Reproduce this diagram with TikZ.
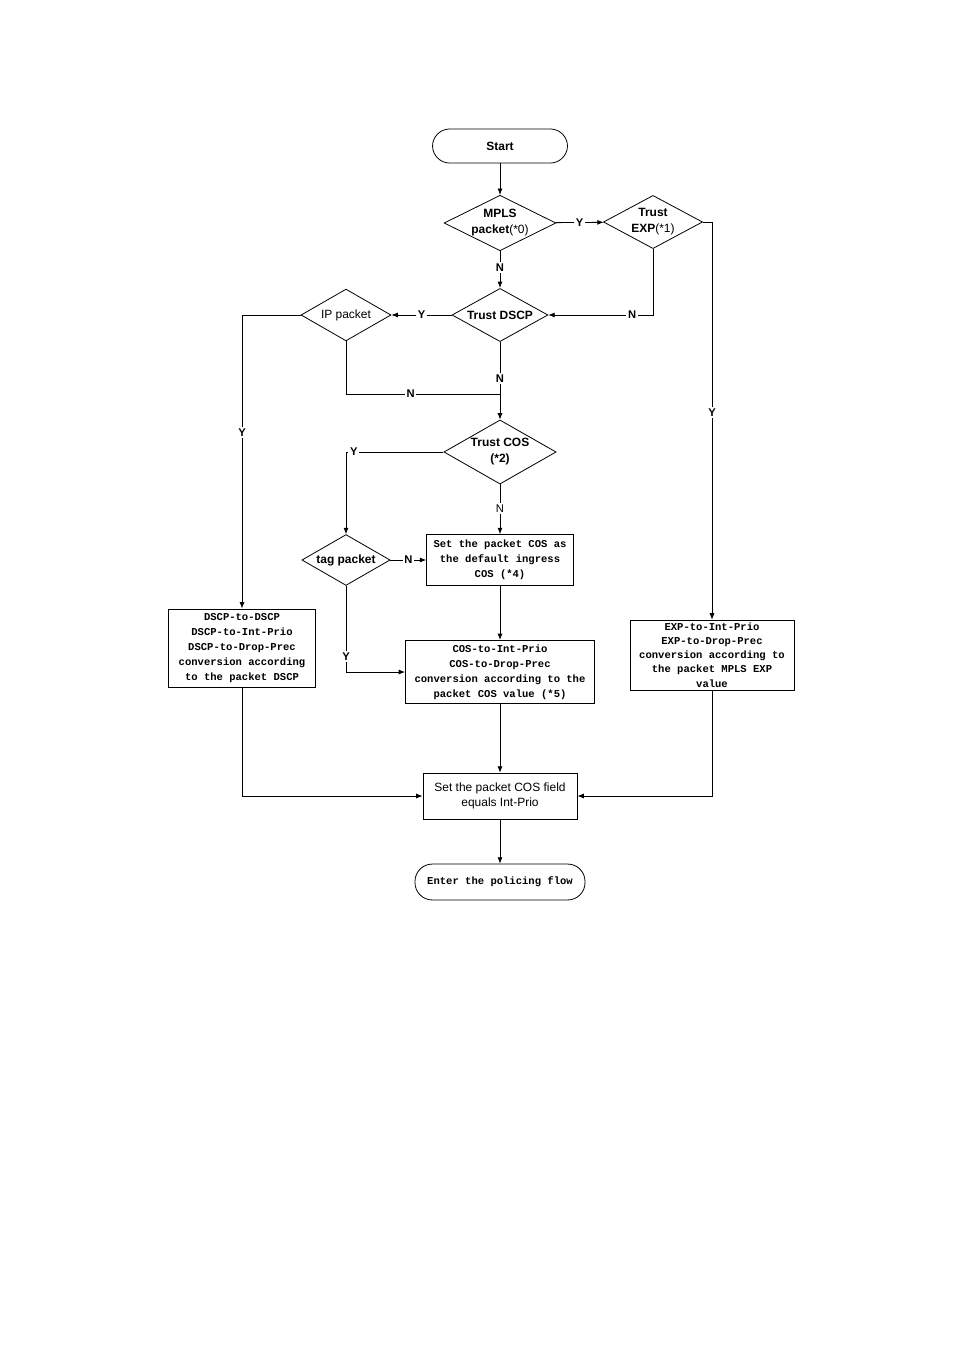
\documentclass[tikz,border=0pt]{standalone}
\usepackage{fontspec}
\setmainfont{Liberation Sans}
\newfontfamily\boxfont{Liberation Mono}
\usetikzlibrary{shapes.geometric,arrows.meta}

\begin{document}
\begin{tikzpicture}[x=0.22mm, y=-0.22mm, >={Latex[length=1.4mm,width=1.1mm]}, line width=0.5pt,
    decide/.style={draw, diamond, aspect=2, inner sep=0pt, align=center, font=\fontsize{7.5}{10}\selectfont\bfseries},
    stepbox/.style={draw, rectangle, inner sep=1pt, align=center, font=\boxfont\fontsize{6.6}{9.4}\selectfont\bfseries},
    plainbox/.style={draw, rectangle, align=center, font=\fontsize{7.5}{9.4}\selectfont},
    term/.style={draw, rectangle, rounded corners=3.8mm, align=center},
    yn/.style={fill=white, inner sep=1pt, font=\fontsize{7}{8}\selectfont\bfseries}]
    \useasboundingbox (0,0) rectangle (954,1350);
    % decisions
    \node[term, minimum width=29.7mm, minimum height=7.5mm, font=\fontsize{7.5}{9}\selectfont\bfseries] (start) at (500,146) {Start};
    \node[decide, minimum width=24.6mm, minimum height=11.9mm] (mpls) at (500,223) {MPLS\\packet{\mdseries(*0)}};
    \node[decide, minimum width=21.8mm, minimum height=11.7mm] (texp) at (653,222) {Trust\\EXP{\mdseries(*1)}};
    \node[decide, minimum width=21.1mm, minimum height=11.7mm] (tdscp) at (500,315) {Trust DSCP};
    \node[decide, minimum width=19.8mm, minimum height=11.4mm, font=\fontsize{7.5}{10}\selectfont] (ippkt) at (346,315) {IP packet};
    \node[decide, minimum width=24.2mm, minimum height=14.1mm] (tcos) at (500,452) {Trust COS\\(*2)};
    \node[decide, minimum width=19.4mm, minimum height=11.2mm] (tagpkt) at (346,560) {tag packet};
    % actions
    \node[stepbox, minimum width=32.3mm, minimum height=11.2mm] (defcos) at (500,560) {Set the packet COS as\\the default ingress\\COS (*4)};
    \node[stepbox, minimum width=32.3mm, minimum height=17.2mm] (dscpmap) at (242,648) {DSCP-to-DSCP\\DSCP-to-Int-Prio\\DSCP-to-Drop-Prec\\conversion according\\to the packet DSCP};
    \node[stepbox, minimum width=41.6mm, minimum height=13.9mm] (cosmap) at (500,672) {COS-to-Int-Prio\\COS-to-Drop-Prec\\conversion according to the\\packet COS value (*5)};
    \node[stepbox, inner sep=0pt, minimum width=36.1mm, minimum height=15.4mm, font=\boxfont\fontsize{6.6}{8.9}\selectfont\bfseries] (expmap) at (712,655) {EXP-to-Int-Prio\\EXP-to-Drop-Prec\\conversion according to\\the packet MPLS EXP\\value};
    \node[plainbox, minimum width=33.9mm, minimum height=10.1mm] (setcos) at (500,796) {Set the packet COS field\\equals Int-Prio};
    \node[term, minimum width=37.4mm, minimum height=7.9mm, font=\boxfont\fontsize{6.6}{8}\selectfont\bfseries] (enter) at (500,882) {Enter the policing flow};
    \coordinate (join) at (500,394);
    % flow
    \draw[->] (start) -- (mpls);
    \draw[->] (mpls) -- node[yn]{Y} (texp);
    \draw[->] (mpls) -- node[yn, pos=0.44]{N} (tdscp);
    \draw[->] (texp.south) |- node[yn, pos=0.6]{N} (tdscp.east);
    \draw[->] (texp.east) -| node[yn, pos=0.74]{Y} (expmap.north);
    \draw[->] (tdscp) -- node[yn]{Y} (ippkt);
    \draw[->] (ippkt.west) -| node[yn, pos=0.7]{Y} (dscpmap.north);
    \draw (ippkt.south) |- node[yn, pos=0.71]{N} (join);
    \draw[->] (tdscp) -- node[yn, pos=0.47]{N} (tcos);
    \draw[->] (tcos.west) -| node[yn, pos=0.46]{Y} (tagpkt.north);
    \draw[->] (tcos) -- node[yn, pos=0.49, font=\fontsize{7}{8}\selectfont]{N} (defcos);
    \draw[->] (tagpkt) -- node[yn]{N} (defcos);
    \draw[->] (tagpkt.south) |- node[yn, pos=0.41]{Y} (cosmap.west);
    \draw[->] (defcos) -- (cosmap);
    \draw[->] (cosmap) -- (setcos);
    \draw[->] (dscpmap.south) |- (setcos.west);
    \draw[->] (expmap.south) |- (setcos.east);
    \draw[->] (setcos) -- (enter);
\end{tikzpicture}
\end{document}
